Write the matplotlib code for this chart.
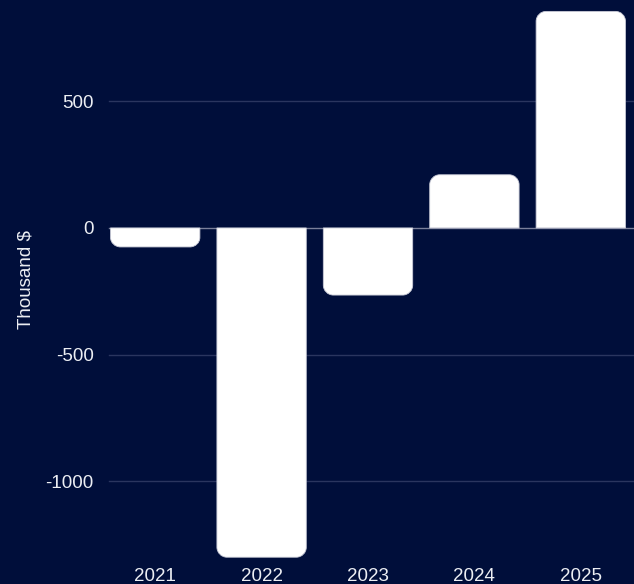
import numpy as np
import matplotlib
matplotlib.use("Agg")
import matplotlib.pyplot as plt
from matplotlib.path import Path
from matplotlib.patches import PathPatch

years = ["2021", "2022", "2023", "2024", "2025"]
values = [-75, -1300, -265, 210, 855]

BG = "#000e3a"
TXT = "#eceef3"

plt.rcParams['font.family'] = ['Liberation Sans', 'DejaVu Sans']

fig = plt.figure(figsize=(6.34, 5.84), dpi=100, facecolor=BG)
ax = fig.add_axes([102 / 634, 24 / 584, 532 / 634, 560 / 584])
ax.set_facecolor(BG)

x = np.arange(len(years))
bars = ax.bar(x, values, width=0.84, color="white", edgecolor="none", zorder=3)

ax.set_xlim(-0.5, len(years) - 0.5)
ax.set_ylim(-1311, 900)
ax.set_yticks([-1000, -500, 0, 500])
ax.set_yticklabels(["-1000", "-500", "0", "500"])
ax.set_xticks(x)
ax.set_xticklabels(years)
ax.tick_params(axis="both", length=0, colors=TXT, labelsize=13.5)
ax.tick_params(axis="y", pad=6)
ax.tick_params(axis="x", pad=6)
for s in ax.spines.values():
    s.set_visible(False)

ax.set_ylabel("Thousand $", color=TXT, fontsize=13.5, labelpad=8)

# faint grid lines, slightly inset from the left
for v in [-1000, -500, 500]:
    ax.plot([-0.43, len(years) - 0.5], [v, v], color="#2a355f", lw=1, zorder=1)
ax.plot([-0.43, len(years) - 0.5], [0, 0], color="#7a7f9a", lw=1, zorder=2)

# rounded corners on the far end of each bar (radius in pixels)
fig.canvas.draw()
r_px = 10
p0 = ax.transData.inverted().transform((0, 0))
p1 = ax.transData.inverted().transform((r_px, r_px))
rx = abs(p1[0] - p0[0])
ry = abs(p1[1] - p0[1])
k = 0.5523

for b in bars:
    x0 = b.get_x()
    w = b.get_width()
    h = b.get_height()
    x1 = x0 + w
    sgn = 1 if h >= 0 else -1
    yt = h
    ryy = min(ry, abs(h) / 2) * sgn
    verts = [
        (x0, 0),
        (x0, yt - ryy),
        (x0, yt - ryy + k * ryy), (x0 + rx - k * rx, yt), (x0 + rx, yt),
        (x1 - rx, yt),
        (x1 - rx + k * rx, yt), (x1, yt - ryy + k * ryy), (x1, yt - ryy),
        (x1, 0),
        (x0, 0),
    ]
    codes = [Path.MOVETO, Path.LINETO,
             Path.CURVE4, Path.CURVE4, Path.CURVE4,
             Path.LINETO,
             Path.CURVE4, Path.CURVE4, Path.CURVE4,
             Path.LINETO, Path.CLOSEPOLY]
    b.set_visible(False)
    ax.add_patch(PathPatch(Path(verts, codes), facecolor="white",
                           edgecolor="#c8cad6", lw=0.6, zorder=3))

fig.savefig("out.png", dpi=100, facecolor=BG)
